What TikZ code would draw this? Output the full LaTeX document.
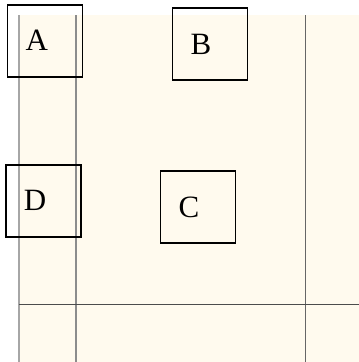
\documentclass[tikz,border=0pt]{standalone}
\usepackage{fontspec}
\setmainfont{Liberation Serif}
\definecolor{cream}{RGB}{255,250,238}
\begin{document}
\begin{tikzpicture}[x=1pt,y=-1pt,
  lbox/.style={draw, line width=1.6pt, minimum height=72pt, text width=39pt, inner xsep=18pt, align=left, font=\fontsize{31}{36}\selectfont}]
\useasboundingbox (0,0) rectangle (359,362);
\fill[cream] (19,15) rectangle (359,362);
% grid lines
\draw[black!35, line width=2pt] (19,15) -- (19,362);
\draw[black!45, line width=1.6pt] (76,15) -- (76,362);
\draw[black!60, line width=1pt] (305,15) -- (305,362);
\draw[black!70, line width=1pt] (19,304) -- (359,304);
% boxes
\node[lbox] (A) at (45,40.7) {A};
\node[lbox] (B) at (210,44) {B};
\node[lbox] (C) at (198,207) {C};
\node[lbox] (D) at (43.3,200.8) {D};
\end{tikzpicture}
\end{document}
